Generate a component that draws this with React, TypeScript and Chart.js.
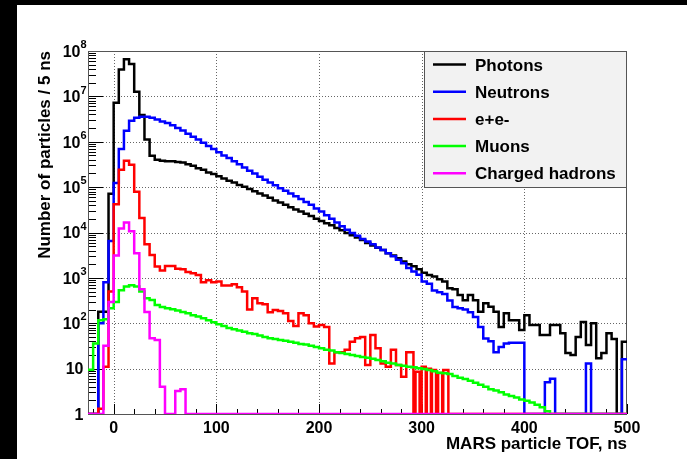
import React, { useEffect, useRef } from 'react';
import { Chart, registerables } from 'chart.js';

Chart.register(...registerables);

// ---------- data ----------
const BIN_WIDTH_NS = 5;
const TOF_MIN = -25;
const TOF_MAX = 500;
const Y_MIN = 1;
const Y_MAX = 1e8;
const tofBinLow: number[] = Array.from({ length: 105 }, (_, i) => TOF_MIN + i * BIN_WIDTH_NS);

const photons: number[] = [
  0, 0, 180, 180, 71000, 7.2e6, 3.9e7, 6.6e7, 5.2e7, 1.26e7,
  3.9e6, 1.12e6, 4.9e5, 4.0e5, 3.8e5, 3.7e5, 3.7e5, 3.6e5, 3.5e5, 3.2e5,
  2.95e5, 2.6e5, 2.4e5, 2.1e5, 1.95e5, 1.74e5, 1.55e5, 1.38e5, 1.26e5, 1.12e5,
  1.02e5, 9.1e4, 8.1e4, 7.2e4, 6.5e4, 5.8e4, 5.1e4, 4.6e4, 4.1e4, 3.6e4,
  3.2e4, 2.9e4, 2.6e4, 2.3e4, 2.0e4, 1.8e4, 1.6e4, 1.45e4, 1.26e4, 1.12e4,
  9800, 8700, 7800, 6800, 5900, 5200, 4600, 4100, 3500, 3100,
  2700, 2300, 2000, 1800, 1550, 1300, 1150, 1070, 930, 830,
  590, 560, 420, 320, 420, 320, 180, 275, 230, 180,
  83, 166, 117, 117, 71, 151, 91, 91, 55, 55,
  91, 91, 60, 22, 20, 50, 107, 33, 100, 17,
  22, 60, 45, 0, 39,
];

const neutrons: number[] = [
  0, 0, 100, 800, 6500, 1.23e5, 6.9e5, 1.74e6, 2.9e6, 3.4e6,
  3.55e6, 3.55e6, 3.4e6, 3.1e6, 2.8e6, 2.6e6, 2.3e6, 2.0e6, 1.78e6, 1.51e6,
  1.29e6, 1.12e6, 9.5e5, 8.1e5, 6.9e5, 5.9e5, 5.0e5, 4.4e5, 3.7e5, 3.2e5,
  2.7e5, 2.3e5, 2.0e5, 1.7e5, 1.45e5, 1.26e5, 1.1e5, 9.5e4, 8.3e4, 7.2e4,
  6.3e4, 5.5e4, 4.7e4, 4.1e4, 3.4e4, 2.9e4, 2.4e4, 2.0e4, 1.66e4, 1.38e4,
  1.15e4, 9800, 8500, 7200, 6300, 5500, 4700, 4100, 3500, 3000,
  2500, 2100, 1660, 1380, 1170, 830, 740, 525, 480, 440,
  316, 229, 214, 200, 174, 138, 83, 46, 40, 23,
  30, 36, 37, 37, 37, 0, 0, 0, 0, 5,
  6, 0, 0, 0, 0, 0, 0, 13, 0, 0,
  0, 0, 0, 0, 16,
];

// e+e-: 5 ns bins from -25 to 285 ns
const electrons: number[] = [
  0, 0, 1.3, 11, 500, 4.2e4, 2.4e5, 3.8e5, 3.1e5, 7.9e4,
  2.1e4, 5500, 3200, 1780, 1450, 1820, 1820, 1580, 1550, 1350,
  1260, 1150, 800, 890, 800, 830, 680, 680, 720, 620,
  500, 200, 355, 275, 263, 174, 195, 186, 166, 112,
  87, 166, 151, 100, 85, 91, 83, 13, 23, 23,
  26, 39, 47, 50, 12, 55, 28, 13, 11, 26,
  12, 6.6,
];
// e+e- comb from 285 ns to 330 ns, 1 ns steps
const ELECTRON_FINE_START = 285;
const electronsFine: number[] = [
  23, 23, 23, 23, 23, 23, 23, 0, 0,
  8.5, 8.5, 8.5, 8.5, 0, 0,
  11, 11, 11, 11, 0,
  10, 10, 10, 10, 0,
  9.3, 9.3, 9.3, 9.3, 0, 0,
  8, 8, 8, 8, 0,
  9.3, 9.3, 9.3, 9.3, 9.3, 0, 0, 0, 0,
];

const muons: number[] = [
  9.5, 36, 117, 123, 214, 295, 537, 646, 692, 646,
  501, 355, 324, 251, 229, 214, 204, 191, 178, 166,
  151, 141, 129, 117, 105, 95, 87, 79, 74, 69,
  65, 60, 58, 54, 50, 47, 45, 43, 41, 39,
  37, 35, 34, 32, 30, 28, 26, 25, 23, 22,
  21, 20, 19, 18, 17.4, 16.6, 15.5, 14.5, 13.5, 12.9,
  12, 11.5, 11, 10.7, 10.2, 9.8, 9.3, 8.7, 8.1, 7.9,
  7.6, 6.9, 6.3, 5.9, 5.4, 4.9, 4.4, 4.0, 3.5, 3.3,
  3.0, 2.7, 2.5, 2.3, 2.1, 1.95, 1.8, 1.6, 1.4, 1.15,
  0, 0, 0, 0, 0, 0, 0, 0, 0, 0,
  0, 0, 0, 0, 0,
];

const chargedHadrons: number[] = [
  0, 0, 0, 32, 295, 3100, 12300, 16600, 10700, 3500,
  560, 178, 47, 43, 4, 0, 0, 3.2, 3.5, 0,
  0, 0, 0, 0, 0, 0, 0, 0, 0, 0,
  0, 0, 0, 0, 0, 0, 0, 0, 0, 0,
  0, 0, 0, 0, 0, 0, 0, 0, 0, 0,
  0, 0, 0, 0, 0, 0, 0, 0, 0, 0,
  0, 0, 0, 0, 0, 0, 0, 0, 0, 0,
  0, 0, 0, 0, 0, 0, 0, 0, 0, 0,
  0, 0, 0, 0, 0, 0, 0, 0, 0, 0,
  0, 0, 0, 0, 0, 0, 0, 0, 0, 0,
  0, 0, 0, 0, 0,
];

const seriesNames = ['Photons', 'Neutrons', 'e+e-', 'Muons', 'Charged hadrons'];
const seriesColors = ['#000000', '#0000ff', '#ff0000', '#00ff00', '#ff00ff'];

const xTickValues = [0, 100, 200, 300, 400, 500];
const xTickLabels = ['0', '100', '200', '300', '400', '500'];
const xGridValues = [0, 100, 200, 300, 400];
const yDecadeExponents = [0, 1, 2, 3, 4, 5, 6, 7, 8];

const xTitle = 'MARS particle TOF, ns';
const yTitle = 'Number of particles / 5 ns';

const FONT = '"Liberation Sans", Arial, Helvetica, sans-serif';

// Empty bins are drawn on the axis floor, as ROOT does on a log axis.
const floorY = (c: number) => (c > 0 ? c : Y_MIN);

function histPoints(low: number[], counts: number[], upper: number) {
  const pts = low.map((x, i) => ({ x, y: floorY(counts[i]) }));
  pts.push({ x: upper, y: floorY(counts[counts.length - 1]) });
  return pts;
}

function electronPoints() {
  const pts: { x: number; y: number }[] = [];
  electrons.forEach((c, i) => pts.push({ x: tofBinLow[i], y: floorY(c) }));
  electronsFine.forEach((c, i) => pts.push({ x: ELECTRON_FINE_START + i, y: floorY(c) }));
  const fineEnd = ELECTRON_FINE_START + electronsFine.length;
  pts.push({ x: fineEnd, y: floorY(0) });
  pts.push({ x: TOF_MAX, y: floorY(0) });
  return pts;
}

const rootStylePlugin = {
  id: 'rootStyle',
  beforeDraw(chart: any) {
    const { ctx } = chart;
    ctx.save();
    ctx.fillStyle = '#000';
    ctx.fillRect(0, 0, chart.width, chart.height);
    ctx.fillStyle = '#fff';
    ctx.fillRect(17, 5, chart.width - 17, chart.height - 5);
    ctx.restore();
  },
  beforeDatasetsDraw(chart: any) {
    const { ctx, chartArea: a, scales } = chart;
    const xs = scales.x;
    const ys = scales.y;
    const L = a.left, R = a.right, T = a.top, B = a.bottom;
    ctx.save();
    // dotted grid
    ctx.strokeStyle = '#666';
    ctx.lineWidth = 1;
    ctx.setLineDash([1, 2]);
    for (const v of xGridValues) {
      const px = Math.round(xs.getPixelForValue(v)) + 0.5;
      ctx.beginPath();
      ctx.moveTo(px, T);
      ctx.lineTo(px, B);
      ctx.stroke();
    }
    for (const k of yDecadeExponents) {
      if (k === 0 || k === 8) continue;
      const py = Math.round(ys.getPixelForValue(Math.pow(10, k))) + 0.5;
      ctx.beginPath();
      ctx.moveTo(L, py);
      ctx.lineTo(R, py);
      ctx.stroke();
    }
    ctx.setLineDash([]);
    // ticks
    ctx.strokeStyle = '#000';
    ctx.lineWidth = 1;
    for (const k of yDecadeExponents) {
      const py = Math.round(ys.getPixelForValue(Math.pow(10, k))) + 0.5;
      ctx.beginPath();
      ctx.moveTo(L, py);
      ctx.lineTo(L + 15, py);
      ctx.stroke();
      if (k < 8) {
        for (let m = 2; m <= 9; m++) {
          const pm = Math.round(ys.getPixelForValue(m * Math.pow(10, k))) + 0.5;
          ctx.beginPath();
          ctx.moveTo(L, pm);
          ctx.lineTo(L + 8, pm);
          ctx.stroke();
        }
      }
    }
    for (let v = -20; v <= TOF_MAX; v += 20) {
      const px = Math.round(xs.getPixelForValue(v)) + 0.5;
      ctx.beginPath();
      ctx.moveTo(px, B);
      ctx.lineTo(px, B - 5);
      ctx.stroke();
    }
    for (const v of xTickValues) {
      const px = Math.round(xs.getPixelForValue(v)) + 0.5;
      ctx.beginPath();
      ctx.moveTo(px, B);
      ctx.lineTo(px, B - 10);
      ctx.stroke();
    }
    // frame
    ctx.strokeStyle = '#555';
    ctx.strokeRect(L + 0.5, T + 0.5, R - L - 1, B - T);
    ctx.restore();
  },
  afterDatasetsDraw(chart: any) {
    const { ctx, chartArea: a, scales } = chart;
    const xs = scales.x;
    const ys = scales.y;
    ctx.save();
    // legend box
    const lx = 424, ly = a.top, lw = a.right - 424, lh = 136;
    ctx.fillStyle = '#f2f2f2';
    ctx.fillRect(lx, ly, lw, lh);
    ctx.strokeStyle = '#555';
    ctx.lineWidth = 1;
    ctx.strokeRect(lx + 0.5, ly + 0.5, lw - 1, lh);
    ctx.font = `bold 17px ${FONT}`;
    ctx.textAlign = 'left';
    ctx.textBaseline = 'alphabetic';
    seriesNames.forEach((name, i) => {
      const y = 64.5 + i * 27.2;
      ctx.strokeStyle = seriesColors[i];
      ctx.lineWidth = 2.5;
      ctx.beginPath();
      ctx.moveTo(433, y);
      ctx.lineTo(466, y);
      ctx.stroke();
      ctx.fillStyle = '#000';
      ctx.fillText(name, 475, y + 6);
    });

    // x tick labels
    ctx.fillStyle = '#000';
    ctx.font = `bold 16px ${FONT}`;
    ctx.textAlign = 'center';
    xTickValues.forEach((v, i) => {
      ctx.fillText(xTickLabels[i], xs.getPixelForValue(v), 433);
    });
    // y tick labels
    for (const k of yDecadeExponents) {
      const py = ys.getPixelForValue(Math.pow(10, k));
      if (k === 0 || k === 1) {
        ctx.font = `bold 16px ${FONT}`;
        ctx.textAlign = 'right';
        ctx.fillText(k === 0 ? '1' : '10', 83.5, py + 5.8);
      } else {
        ctx.font = `bold 16px ${FONT}`;
        ctx.textAlign = 'right';
        ctx.fillText('10', 80.5, py + 5.8);
        ctx.font = `bold 11px ${FONT}`;
        ctx.textAlign = 'left';
        ctx.fillText(String(k), 80.5, py - 2.8);
      }
    }
    // axis titles
    ctx.font = `bold 17px ${FONT}`;
    ctx.textAlign = 'right';
    ctx.fillText(xTitle, a.right, 449);
    ctx.save();
    ctx.translate(49.5, a.top);
    ctx.rotate(-Math.PI / 2);
    ctx.textAlign = 'right';
    ctx.fillText(yTitle, 0, 0);
    ctx.restore();
    ctx.restore();
  },
};

export default function App() {
  const canvasRef = useRef<HTMLCanvasElement | null>(null);

  useEffect(() => {
    document.body.style.margin = '0';
    const canvas = canvasRef.current;
    if (!canvas) return;
    const common = {
      fill: false,
      pointRadius: 0,
      borderWidth: 2.5,
      stepped: true,
      tension: 0,
      borderCapStyle: 'butt',
      borderJoinStyle: 'miter',
    };
    const chart = new Chart(canvas, {
      type: 'line',
      data: {
        datasets: [
          { ...common, label: seriesNames[0], borderColor: seriesColors[0], data: histPoints(tofBinLow, photons, TOF_MAX), order: 5 },
          { ...common, label: seriesNames[1], borderColor: seriesColors[1], data: histPoints(tofBinLow, neutrons, TOF_MAX), order: 4 },
          { ...common, label: seriesNames[2], borderColor: seriesColors[2], data: electronPoints(), order: 3 },
          { ...common, label: seriesNames[3], borderColor: seriesColors[3], data: histPoints(tofBinLow, muons, TOF_MAX), order: 2 },
          { ...common, label: seriesNames[4], borderColor: seriesColors[4], data: histPoints(tofBinLow, chargedHadrons, TOF_MAX), order: 1 },
        ] as any,
      },
      options: {
        animation: false,
        responsive: false,
        events: [],
        layout: { padding: { left: 88, top: 51, right: 60, bottom: 45 } },
        scales: {
          x: { type: 'linear', min: TOF_MIN, max: TOF_MAX, display: false },
          y: { type: 'logarithmic', min: Y_MIN, max: Y_MAX, display: false },
        },
        plugins: {
          legend: { display: false },
          tooltip: { enabled: false },
          title: { display: false },
        },
      } as any,
      plugins: [rootStylePlugin as any],
    });
    return () => chart.destroy();
  }, []);

  return (
    <div style={{ position: 'fixed', left: 0, top: 0, width: 687, height: 459, background: '#000' }}>
      <canvas ref={canvasRef} width={687} height={459} style={{ display: 'block' }} />
    </div>
  );
}
